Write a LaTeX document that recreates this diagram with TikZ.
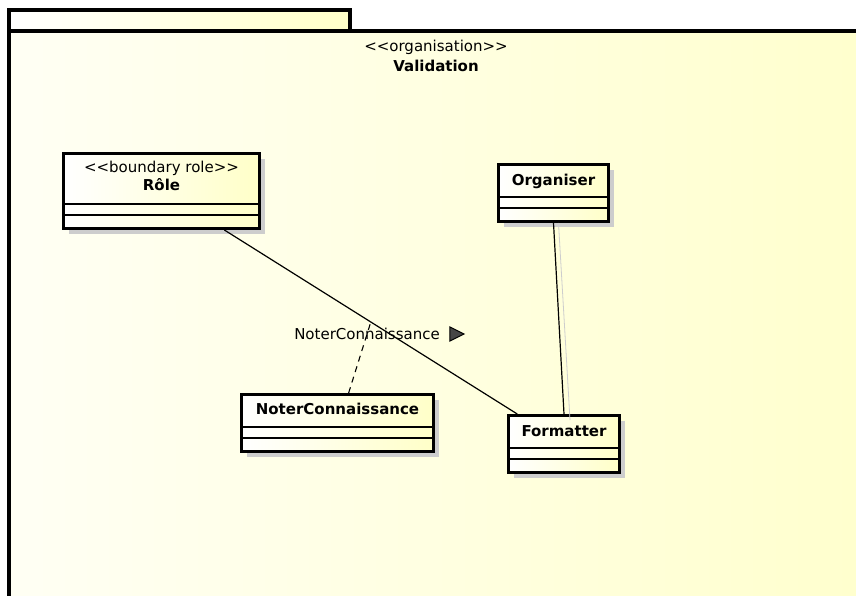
\documentclass[tikz,border=0pt]{standalone}
\usepackage{fontspec}
\usepackage{tikz}
\usetikzlibrary{positioning, calc, shadows, arrows.meta}
\newfontfamily\umlfont{DejaVu Sans}
\definecolor{UMLPale}{RGB}{255,255,244}
\definecolor{UMLYellow}{RGB}{255,255,205}
\definecolor{UMLClass}{RGB}{255,255,200}
\definecolor{UMLShadow}{RGB}{205,205,205}
\definecolor{UMLArrow}{RGB}{70,70,70}
\tikzset{
    pkgbox/.style={
        draw, line width=3.4pt, left color=UMLPale, right color=UMLYellow
    },
    classbox/.style={
        draw, line width=3pt, left color=white, right color=UMLClass,
        anchor=north west, minimum height=57pt, inner sep=0pt,
        drop shadow={shadow xshift=5pt, shadow yshift=-5pt, fill=UMLShadow, opacity=1}
    },
    compline/.style={
        line width=1.3pt
    },
    assocline/.style={
        line width=1.2pt
    },
    traceline/.style={
        line width=1.1pt, dash pattern=on 6pt off 5pt
    },
    stereo/.style={
        font=\umlfont\fontsize{15}{18}\selectfont, inner sep=1pt
    },
    classname/.style={
        font=\umlfont\bfseries\fontsize{15}{18}\selectfont, inner sep=1pt
    },
    assoclabel/.style={
        font=\umlfont\fontsize{15}{18}\selectfont, inner sep=1pt
    }
}
\begin{document}
\begin{tikzpicture}[x=1pt, y=-1pt]
    \path[use as bounding box, clip] (0,0) rectangle (856,595);
    \fill[white] (0,0) rectangle (856,595);
    % package
    \path[pkgbox] (9,31) rectangle (875,615);
    \path[pkgbox, left color=white, right color=UMLClass] (9,10) rectangle (350,31);
    \node[stereo] (pkgst) at (436,47) {<<organisation>>};
    \node[classname] (pkgname) at (436,66) {Validation};
    % classes
    \node[classbox, minimum width=196pt, minimum height=75pt] (role) at (62,152) {};
    \node[stereo] (rolest) at ($(role.north)+(0,16)$) {<<boundary role>>};
    \node[classname] (rolename) at ($(role.north)+(0,33)$) {Rôle};
    \node[classbox, minimum width=110pt] (org) at (497,163) {};
    \node[classname] (orgname) at ($(org.north)+(0,18)$) {Organiser};
    \node[classbox, minimum width=192pt] (noter) at (240,393) {};
    \node[classname] (notername) at ($(noter.north)+(0,16)$) {NoterConnaissance};
    \node[classbox, minimum width=111pt] (fmt) at (507,414) {};
    \node[classname] (fmtname) at ($(fmt.north)+(0,17)$) {Formatter};
    \foreach \c in {role, org, noter, fmt} {
        \draw[compline] ([yshift=26pt]\c.south west) -- ([yshift=26pt]\c.south east);
        \draw[compline] ([yshift=15pt]\c.south west) -- ([yshift=15pt]\c.south east);
    }
    % associations
    \coordinate (roleend) at ($(role.south west)!0.816!(role.south east)$);
    \coordinate (fmtend) at ($(fmt.north west)!0.09!(fmt.north east)$);
    \draw[assocline] (roleend) -- (fmtend);
    \coordinate (assoc) at ($(roleend)!0.5!(fmtend)$);
    \draw[UMLShadow, line width=0.8pt] ($(org.south)+(5,0)$) -- ($(fmt.north)+(6,6)$);
    \draw[assocline] (org.south) -- (fmt.north);
    \draw[traceline] ($(noter.north west)!0.557!(noter.north east)$) -- (assoc);
    \node[assoclabel] (lbl) at (367,334) {NoterConnaissance};
    \draw[line width=1pt, fill=UMLArrow] ($(lbl.east)+(9,-7)$) -- ++(14,7) -- ++(-14,7) -- cycle;
\end{tikzpicture}
\end{document}
